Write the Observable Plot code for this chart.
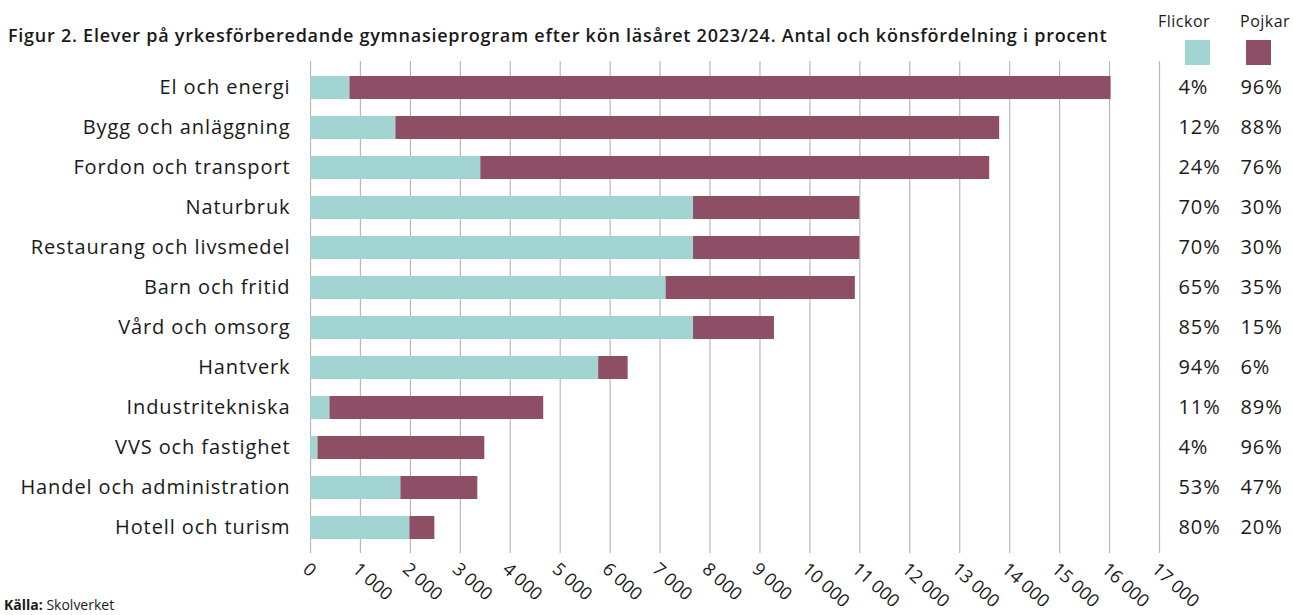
<!DOCTYPE html>
<html>
<head>
<meta charset="utf-8">
<script src="https://cdn.jsdelivr.net/npm/d3@7"></script>
<script src="https://cdn.jsdelivr.net/npm/@observablehq/plot@0.6"></script>
<style>
  html, body { margin: 0; padding: 0; background: #fff; }
  #wrap { position: relative; width: 1293px; height: 615px; overflow: hidden; font-family: "Open Sans", sans-serif; color: #1a1a1a; }
  #title { position: absolute; left: 8px; top: 23px; font-size: 18px; font-weight: 600; white-space: nowrap; letter-spacing: 0.75px; }
  #chart { position: absolute; left: 0; top: 0; }
  #chart svg text { letter-spacing: 0.9px; }
  #chart svg g[aria-label="x-axis tick label"] text { letter-spacing: 0; }
  .leg { position: absolute; font-size: 16px; letter-spacing: 0.5px; }
  .sw { position: absolute; width: 25px; height: 25px; }
  #caption { position: absolute; left: 4px; top: 596px; font-size: 14px; line-height: 17px; white-space: nowrap; }
</style>
</head>
<body>
<div id="wrap">
  <div id="chart"></div>
  <div id="title">Figur 2. Elever på yrkesförberedande gymnasieprogram efter kön läsåret 2023/24. Antal och könsfördelning i procent</div>
  <div class="leg" style="left:1158px; top:10px;">Flickor</div>
  <div class="leg" style="left:1240px; top:10px;">Pojkar</div>
  <div class="sw" style="left:1185px; top:40px; background:#a2d4d1;"></div>
  <div class="sw" style="left:1246px; top:40px; background:#8e4f66;"></div>
  <div id="caption"><b>Källa:</b> Skolverket</div>
</div>
<script>
const categories = ["El och energi","Bygg och anläggning","Fordon och transport","Naturbruk","Restaurang och livsmedel","Barn och fritid","Vård och omsorg","Hantverk","Industritekniska","VVS och fastighet","Handel och administration","Hotell och turism"];
const flickor = [790, 1710, 3410, 7670, 7670, 7120, 7670, 5770, 390, 150, 1810, 1990];
const pojkar  = [15240, 12090, 10190, 3330, 3330, 3790, 1620, 590, 4280, 3340, 1540, 500];
const pctFlickor = ["4%","12%","24%","70%","70%","65%","85%","94%","11%","4%","53%","80%"];
const pctPojkar  = ["96%","88%","76%","30%","30%","35%","15%","6%","89%","96%","47%","20%"];
const series = ["Flickor","Pojkar"];
const colors = ["#a2d4d1","#8e4f66"];
const xTicks = [0,1000,2000,3000,4000,5000,6000,7000,8000,9000,10000,11000,12000,13000,14000,15000,16000,17000];

const rows = [
  ...categories.map((c,i) => ({cat:c, sex:"Flickor", value:flickor[i]})),
  ...categories.map((c,i) => ({cat:c, sex:"Pojkar", value:pojkar[i]}))
];
const fmt = d => d3.format(",")(d).replace(/,/g, " ");

const chart = Plot.plot({
  width: 1293,
  height: 615,
  marginLeft: 310,
  marginRight: 134,
  marginTop: 61,
  marginBottom: 62,
  style: {fontFamily: "Open Sans, sans-serif", color: "#1a1a1a", background: "transparent"},
  x: {domain: [0, 17000]},
  y: {domain: categories, paddingInner: 0.425, paddingOuter: 0.3625, align: 0.5},
  color: {domain: series, range: colors},
  marks: [
    Plot.gridX(xTicks, {stroke: "#b8b8b8", strokeOpacity: 1, strokeWidth: 1.2}),
    Plot.barX(rows, Plot.stackX({x: "value", y: "cat", fill: "sex"})),
    Plot.axisY({tickSize: 0, tickPadding: 20, fontSize: 20, label: null}),
    Plot.axisX({ticks: xTicks, tickSize: 0, tickPadding: 13, tickRotate: 42, tickFormat: fmt, fontSize: 18, label: null, textAnchor: "start", dx: -5}),
    Plot.text(categories, {y: d => d, text: (d,i) => pctFlickor[i], frameAnchor: "right", dx: 19, textAnchor: "start", fontSize: 20, fill: "#1a1a1a"}),
    Plot.text(categories, {y: d => d, text: (d,i) => pctPojkar[i], frameAnchor: "right", dx: 81, textAnchor: "start", fontSize: 20, fill: "#1a1a1a"})
  ]
});
document.getElementById("chart").appendChild(chart);
</script>
</body>
</html>
